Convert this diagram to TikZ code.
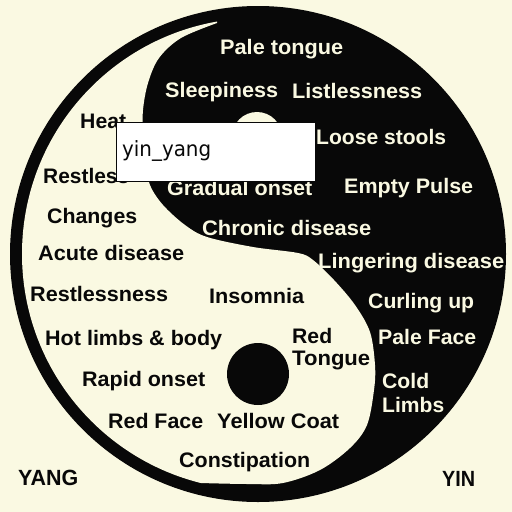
\documentclass[tikz,border=0pt]{standalone}
\usepackage{fontspec}
\setmainfont{Liberation Sans}
\newfontfamily\boxfont{DejaVu Sans}
\usepackage{graphicx}
\definecolor{cream}{RGB}{250,249,226}
\definecolor{ink}{RGB}{8,8,8}
\newcommand{\fitw}[2]{\resizebox{#1pt}{\height}{#2}}
\begin{document}
\begin{tikzpicture}[x=1pt,y=-1pt,
  lbl/.style={anchor=base west, inner sep=0pt, font=\fontsize{21}{24}\selectfont\bfseries},
  onblack/.style={lbl, text=cream},
  onwhite/.style={lbl, text=ink},
  bigw/.style={anchor=base west, inner sep=0pt, text=ink, font=\fontsize{22}{26}\selectfont\bfseries},
  tagbox/.style={draw=ink, line width=0.8pt, fill=white, minimum width=199pt, minimum height=59pt, inner sep=0pt, anchor=north west}]
\useasboundingbox (0,0) rectangle (512,512);
\fill[cream] (0,0) rectangle (512,512);
% yin-yang
\fill[ink] (258,254) circle[radius=248];
\begin{scope}
  \clip (258,254) circle[radius=236];
  \fill[cream] (217,-20) -- plot[smooth, tension=0.55] coordinates {(217,23) (181,38) (159,58) (148,83) (143,110) (143,135) (145,160) (150,185) (163,205) (185,225) (207,237) (253,247) (298,253) (313,260) (334,280) (355,305) (370,332) (375,365) (374,390) (367,425) (350,448) (320,470) (283,483) (248,484) (200,483)} -- (200,540) -- (-20,540) -- (-20,-20) -- cycle;
\end{scope}
\fill[ink] (258,374) circle[radius=31];
\fill[cream] (257,137) circle[radius=25];
% labels on black
\node[onblack] (pt) at (220,54) {\fitw{123}{Pale tongue}};
\node[onblack] (sl) at (165,97) {\fitw{113}{Sleepiness}};
\node[onblack] (li) at (292,98) {\fitw{130}{Listlessness}};
\node[onblack] (ls) at (316,144) {\fitw{130}{Loose stools}};
\node[onblack] (go) at (167,195) {\fitw{145}{Gradual onset}};
\node[onblack] (ep) at (344,193) {\fitw{129}{Empty Pulse}};
\node[onblack] (cd) at (202,235) {\fitw{169}{Chronic disease}};
\node[onblack] (ld) at (318,268) {\fitw{186}{Lingering disease}};
\node[onblack] (cu) at (368,308) {\fitw{106}{Curling up}};
\node[onblack] (pf) at (378,344) {\fitw{98}{Pale Face}};
\node[onblack] (co) at (382,388) {\fitw{47}{Cold}};
\node[onblack] (lm) at (382,412) {\fitw{62}{Limbs}};
% labels on cream
\node[onwhite] (he) at (80,128) {\fitw{46}{Heat}};
\node[onwhite] (rs) at (43,183) {\fitw{86}{Restless}};
\node[onwhite] (ch) at (47,223) {\fitw{90}{Changes}};
\node[onwhite] (ad) at (38,260) {\fitw{146}{Acute disease}};
\node[onwhite] (rn) at (30,301) {\fitw{138}{Restlessness}};
\node[onwhite] (in) at (209,303) {\fitw{95}{Insomnia}};
\node[onwhite] (hl) at (45,345) {\fitw{177}{Hot limbs \& body}};
\node[onwhite] (rd) at (292,343) {\fitw{40}{Red}};
\node[onwhite] (tg) at (292,365) {\fitw{78}{Tongue}};
\node[onwhite] (ro) at (82,386) {\fitw{123}{Rapid onset}};
\node[onwhite] (rf) at (108,428) {\fitw{95}{Red Face}};
\node[onwhite] (yc) at (217,428) {\fitw{122}{Yellow Coat}};
\node[onwhite] (cp) at (179,467) {\fitw{131}{Constipation}};
\node[bigw] (yg) at (18,485) {\fitw{60}{YANG}};
\node[bigw] (yn) at (442,486) {\fitw{33}{YIN}};
% overlay tag
\node[tagbox] (tag) at (116,122) {};
\node[anchor=base west, inner sep=0pt, text=ink, font=\boxfont\fontsize{21}{25}\selectfont] (tagtext) at (122,156) {\fitw{89}{yin\_yang}};
\end{tikzpicture}
\end{document}
